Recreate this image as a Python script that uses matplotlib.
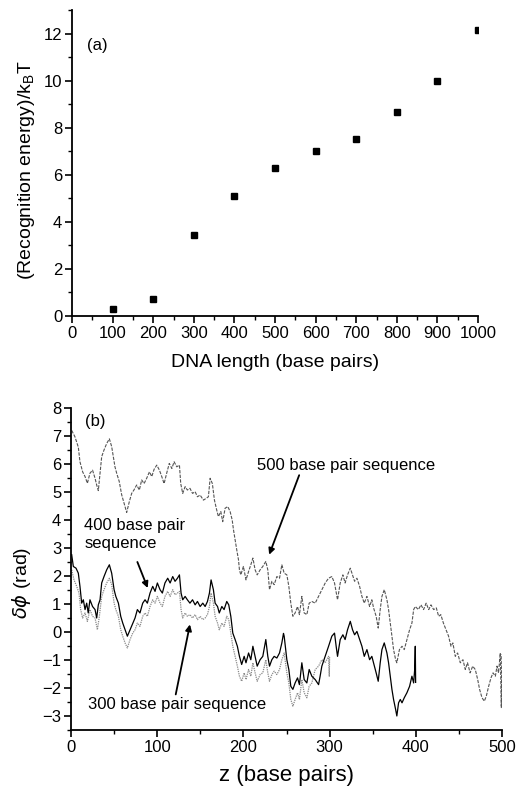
import numpy as np
import matplotlib
matplotlib.use('Agg')
import matplotlib.pyplot as plt
from matplotlib.ticker import MultipleLocator

plt.rcParams['font.family'] = ['Liberation Sans', 'DejaVu Sans']
plt.rcParams['mathtext.fontset'] = 'dejavusans'

# (a) 识别能量 vs DNA 长度
dna_length = [100, 200, 300, 400, 500, 600, 700, 800, 900, 1000]
recog_energy = [0.30, 0.72, 3.46, 5.08, 6.29, 7.03, 7.54, 8.67, 10.0, 12.15]

# (b) 三条序列的 δφ(z) 曲线
z_500 = [0.8, 4.6, 8.5, 10.4, 13.5, 16.3, 19, 22, 25, 27.9, 29.8, 31.7, 33.7, 35.6, 38.3, 41.4,
         44.5, 47.2, 51, 53, 56, 58.8, 61.5, 64.6, 67.7, 70.4, 73, 76.2, 79.3, 82, 84.8, 87.8,
         91, 93.7, 96.4, 99.5, 102.6, 105.3, 108, 111, 114, 117, 119.6, 122.7, 125.8, 127.3,
         129.6, 132.4, 135, 138, 141, 144, 146.7, 149.8, 153.6, 156.7, 159.4, 161.4, 164,
         166.4, 169, 171, 173.8, 176, 178.8, 181.9, 184.6, 187, 188.5, 190.4, 192.3, 194.3,
         195.4, 197, 200, 203, 206, 208.6, 211, 213.6, 216, 219.4, 222.5, 226, 228.3, 230.3,
         233, 235.7, 238.8, 241.9, 244.6, 247.3, 250.4, 252.7, 255, 257.4, 260, 262.8, 265,
         267.8, 270.5, 273.6, 276.3, 279.4, 283.3, 287.2, 291, 294.9, 298.8, 302.6, 305.7,
         309.2, 312.3, 315.4, 318, 320.8, 324, 326.6, 329, 331.7, 334.8, 337.5, 340.2, 343.3,
         346.4, 349, 351, 354, 356.4, 358.7, 360.7, 363.4, 366.5, 368.4, 370.4, 372.3, 374.2,
         376.6, 378, 381, 384, 386.6, 389.7, 392.8, 395.5, 397.5, 399.4, 403, 406, 409, 412,
         415, 417.6, 420.7, 423.8, 426.5, 429, 432, 435, 438, 440.8, 443, 445.8, 448.5, 451.6,
         454.7, 457.4, 460, 463, 466, 469, 471.8, 474, 476.8, 479.5, 481.8, 484.5, 487.2,
         489.6, 492.3, 494.2, 496, 498, 499.2, 499.8]
phi_500 = [7.2, 6.97, 6.6, 6.08, 5.72, 5.55, 5.31, 5.67, 5.78, 5.49, 5.25, 5.05, 5.67, 6.26, 6.5,
           6.73, 6.9, 6.62, 5.9, 5.67, 5.37, 4.9, 4.6, 4.27, 4.66, 4.95, 5.07, 5.25, 5.07, 5.43,
           5.3, 5.49, 5.72, 5.55, 5.81, 5.96, 5.78, 5.55, 5.3, 5.67, 6.02, 5.84, 6.08, 5.9, 5.96,
           5.3, 4.95, 5.19, 5.07, 5.13, 4.95, 5.01, 4.83, 4.89, 4.71, 4.77, 4.83, 5.49, 5.3,
           4.71, 4.36, 4.12, 4.3, 3.94, 4.42, 4.48, 4.3, 4.0, 3.65, 3.29, 2.93, 2.58, 2.22, 2.04,
           2.34, 1.86, 2.16, 2.4, 2.64, 2.22, 2.04, 2.22, 2.34, 2.52, 2.22, 1.51, 1.81, 1.69,
           1.98, 1.92, 2.4, 2.1, 2.04, 1.63, 1.03, 0.56, 0.68, 0.91, 0.62, 1.27, 0.68, 0.62,
           1.03, 1.09, 1.03, 1.27, 1.51, 1.75, 1.92, 1.98, 1.75, 1.15, 1.75, 2.04, 1.75, 2.04,
           2.28, 2.04, 1.81, 1.92, 1.63, 1.27, 1.03, 1.27, 0.91, 1.15, 0.86, 0.56, 0.14, 0.8,
           1.27, 1.51, 1.15, 0.8, 0.32, -0.15, -0.63, -0.99, -1.1, -0.63, -0.51, -0.63, -0.27,
           0.08, 0.32, 0.8, 0.91, 0.8, 0.97, 0.8, 1.03, 0.8, 0.97, 0.8, 0.86, 0.56, 0.62, 0.32,
           0.08, -0.15, -0.51, -0.39, -0.87, -0.75, -1.1, -0.99, -1.34, -1.1, -1.46, -1.22,
           -1.34, -1.7, -2.05, -2.35, -2.47, -2.29, -1.94, -1.64, -1.46, -1.58, -1.22, -1.46,
           -0.75, -2.7, -0.8]

z_400 = [0.8, 2.7, 5.8, 8.5, 10.4, 12.4, 14.3, 16.3, 18.2, 20, 22, 25, 27.9, 29.8, 31.7, 33.7,
         35.6, 38.3, 41.4, 44.5, 47.2, 50, 52, 55, 57.7, 60, 62.7, 65.4, 68.5, 71.6, 74.3, 77,
         80, 83.2, 85.9, 88.6, 91.7, 94.8, 97.5, 100.2, 103.3, 106, 109, 112.2, 115, 118,
         120.7, 123.5, 125.8, 127.7, 129.6, 132.4, 135, 138, 141, 144, 146.7, 149.8, 152.9,
         155.6, 158.3, 160.6, 162.5, 165.2, 167.2, 170, 172, 175, 177.6, 180.7, 183, 185.4,
         187.7, 190.4, 193, 195.4, 198, 200.9, 203, 206, 208.6, 211, 213.6, 216, 219.4, 222.5,
         226, 228.3, 230.3, 233, 235.7, 238.8, 241.9, 244.6, 246.5, 247.3, 250.4, 252.7, 255,
         257.4, 260, 262.8, 265, 267.8, 270.5, 273.6, 276.3, 279.4, 283.3, 287.2, 289, 291,
         294.9, 298.8, 302.6, 305.7, 307.6, 309.2, 312.3, 315.4, 318, 320.8, 324, 326.6, 329,
         331.7, 334.8, 337.5, 340.2, 343.3, 346.4, 349, 351, 354, 356.4, 358.7, 360.7, 363.4,
         366.5, 368.4, 370.4, 372.3, 374.2, 376.6, 378, 380, 382, 384, 386.6, 389.7, 392.8,
         395.5, 397.5, 398.7, 399.4, 399.8]
phi_400 = [2.76, 2.34, 2.28, 2.1, 1.63, 1.03, 1.15, 0.8, 1.03, 0.68, 1.15, 0.91, 0.8, 0.5, 0.97,
           1.15, 1.75, 1.98, 2.22, 2.4, 2.1, 1.51, 1.27, 1.03, 0.56, 0.32, 0.08, -0.15, 0.08,
           0.32, 0.5, 0.8, 0.68, 1.03, 1.15, 1.03, 1.39, 1.63, 1.45, 1.75, 1.51, 1.39, 1.75,
           1.92, 1.75, 1.98, 1.81, 1.92, 2.04, 1.39, 1.15, 1.27, 1.15, 1.03, 1.15, 0.97, 1.09,
           0.91, 1.03, 0.91, 1.09, 1.39, 1.86, 1.51, 1.03, 0.91, 0.68, 0.91, 0.8, 1.09, 0.97,
           0.56, -0.04, -0.27, -0.51, -0.87, -1.16, -0.87, -1.1, -0.75, -0.99, -0.51, -0.87,
           -1.22, -0.99, -0.87, -0.27, -0.87, -1.22, -0.99, -0.87, -0.93, -0.75, -0.39, -0.05,
           -0.15, -0.99, -1.34, -1.94, -2.05, -1.82, -1.64, -1.88, -1.1, -1.7, -1.82, -1.34,
           -1.58, -1.7, -1.88, -1.58, -1.22, -0.87, -0.51, -0.15, -0.04, -0.51, -0.87, -0.27,
           -0.1, -0.27, 0.08, 0.38, 0.08, -0.1, 0.02, -0.27, -0.51, -0.87, -0.63, -0.99, -0.87,
           -1.1, -1.46, -1.76, -1.1, -0.63, -0.39, -0.75, -1.1, -1.58, -2.05, -2.41, -2.77,
           -3.0, -2.53, -2.41, -2.53, -2.35, -2.17, -1.94, -1.58, -1.82, -1.34, -0.51, -1.8]

z_300 = [0.8, 3.5, 6.6, 9.3, 11.2, 13.5, 16.3, 19, 22, 25, 27.9, 30.6, 32.9, 35.6, 38.3, 41.4,
         44.5, 47.2, 50, 52, 55, 57.7, 60, 62.7, 65.4, 68.5, 71.6, 74.3, 77, 80, 83.2, 85.9,
         88.6, 91.7, 94.8, 97.5, 100.2, 103.3, 106, 109, 112.2, 115, 118, 120.7, 123.5, 125.8,
         127.7, 129.6, 132.4, 135, 138, 141, 144, 146.7, 149.8, 152.9, 155.6, 158.3, 160.6,
         162.5, 165.2, 167.2, 170, 172, 175, 177.6, 180.7, 183, 185.4, 187.7, 190.4, 193,
         195.4, 198, 200.9, 203, 206, 208.6, 211, 213.6, 216, 219.4, 222.5, 226, 228.3, 230.3,
         233, 235.7, 238.8, 241.9, 244.6, 247.3, 250.4, 252.7, 255, 257.4, 260, 262.8, 265,
         267.8, 270.5, 273.6, 276.3, 279.4, 283.3, 287.2, 291, 294.9, 298.8, 299.6, 300]
phi_300 = [2.22, 1.86, 1.63, 1.39, 0.8, 0.5, 0.68, 0.38, 0.8, 0.56, 0.5, 0.08, 0.56, 1.27, 1.51,
           1.75, 1.92, 1.69, 1.03, 0.8, 0.56, 0.08, -0.15, -0.39, -0.57, -0.27, -0.04, 0.08,
           0.32, 0.2, 0.56, 0.68, 0.56, 0.91, 1.15, 1.03, 1.27, 1.03, 0.91, 1.27, 1.45, 1.27,
           1.51, 1.33, 1.39, 1.45, 0.8, 0.5, 0.68, 0.56, 0.62, 0.5, 0.62, 0.44, 0.56, 0.44,
           0.5, 0.62, 0.91, 1.39, 1.03, 0.56, 0.32, 0.08, 0.32, 0.2, 0.56, 0.44, -0.04, -0.51,
           -0.87, -1.22, -1.58, -1.76, -1.46, -1.7, -1.34, -1.58, -1.1, -1.46, -1.76, -1.52,
           -1.46, -0.99, -1.46, -1.76, -1.52, -1.4, -1.52, -1.34, -0.99, -0.75, -1.46, -1.82,
           -2.41, -2.65, -2.41, -2.17, -2.41, -1.7, -2.17, -2.35, -1.94, -1.82, -1.34, -1.22,
           -0.99, -1.1, -0.87, -1.58, -0.9]


def style_axes(ax, fs):
    ax.spines['top'].set_visible(False)
    ax.spines['right'].set_visible(False)
    for s in ('left', 'bottom'):
        ax.spines[s].set_linewidth(1.3)
    ax.tick_params(which='major', direction='out', length=5, width=1.2, labelsize=fs, pad=2)
    ax.tick_params(which='minor', direction='out', length=3, width=1.0)


def main():
    fig = plt.figure(figsize=(5.31, 7.89), dpi=100)

    # ---- (a) ----
    ax1 = fig.add_axes([0.1356, 0.5995, 0.7646, 0.3878])
    ax1.plot(dna_length, recog_energy, 's', color='black', markersize=5)
    ax1.set_xlim(0, 1000)
    ax1.set_ylim(0, 13)
    ax1.xaxis.set_major_locator(MultipleLocator(100))
    ax1.xaxis.set_minor_locator(MultipleLocator(50))
    ax1.yaxis.set_major_locator(MultipleLocator(2))
    ax1.yaxis.set_minor_locator(MultipleLocator(1))
    style_axes(ax1, 12)
    ax1.set_xlabel('DNA length (base pairs)', fontsize=14)
    ax1.set_ylabel(r'(Recognition energy)/k$_{\mathregular{B}}$T', fontsize=14)
    ax1.xaxis.set_label_coords(0.5, -0.125)
    ax1.yaxis.set_label_coords(-0.085, 0.477)
    ax1.text(62, 11.5, '(a)', fontsize=12, ha='center', va='center')

    # ---- (b) ----
    ax2 = fig.add_axes([0.1337, 0.0748, 0.8117, 0.4081])
    ax2.plot(z_500, phi_500, color='#555555', lw=0.8, dashes=(3, 1.2))
    ax2.plot(z_300, phi_300, color='#8a8a8a', lw=0.9, dashes=(1, 0.8))
    ax2.plot(z_400, phi_400, color='black', lw=0.9)
    ax2.set_xlim(0, 500)
    ax2.set_ylim(-3.5, 8)
    ax2.xaxis.set_major_locator(MultipleLocator(100))
    ax2.xaxis.set_minor_locator(MultipleLocator(50))
    ax2.yaxis.set_major_locator(MultipleLocator(1))
    ax2.yaxis.set_minor_locator(MultipleLocator(0.5))
    style_axes(ax2, 12)
    ax2.set_xlabel('z (base pairs)', fontsize=16)
    ax2.set_ylabel(r'$\delta\phi$ (rad)', fontsize=14)
    ax2.xaxis.set_label_coords(0.5, -0.11)
    ax2.yaxis.set_label_coords(-0.088, 0.457)
    ax2.text(28, 7.5, '(b)', fontsize=12, ha='center', va='center')

    # 标注
    ax2.text(216, 5.93, '500 base pair sequence', fontsize=12, ha='left', va='center')
    ax2.text(15.4, 3.48, '400 base pair\nsequence', fontsize=12, ha='left', va='center',
             linespacing=1.2)
    ax2.text(20, -2.58, '300 base pair sequence', fontsize=12, ha='left', va='center')
    arrow = dict(arrowstyle='-|>', color='black', lw=1.3, mutation_scale=9,
                 shrinkA=0, shrinkB=0)
    ax2.annotate('', xy=(229.9, 2.76), xytext=(264.7, 5.6), arrowprops=arrow)
    ax2.annotate('', xy=(89, 1.57), xytext=(77, 2.5), arrowprops=arrow)
    ax2.annotate('', xy=(138, 0.27), xytext=(121.5, -2.23), arrowprops=arrow)

    fig.savefig('out.png', dpi=100)


if __name__ == "__main__":
    main()
